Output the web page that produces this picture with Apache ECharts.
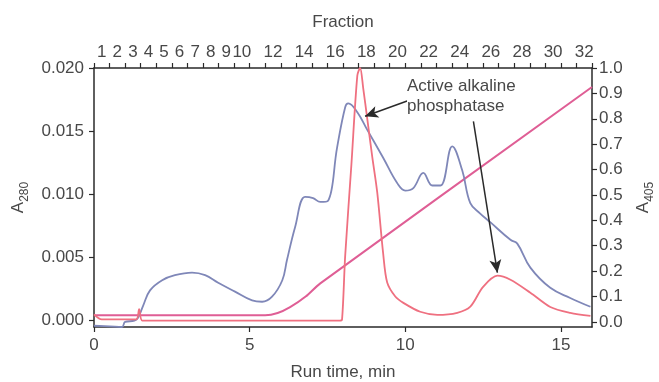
<!DOCTYPE html>
<html>
<head>
<meta charset="utf-8">
<script src="https://cdn.jsdelivr.net/npm/echarts@6/dist/echarts.min.js"></script>
<style>
  html, body { margin: 0; padding: 0; background: #fff; }
  #chart { width: 659px; height: 382px; }
</style>
</head>
<body>
<div id="chart"></div>
<script>
// fractions on the top axis
const fractions = ["1","2","3","4","5","6","7","8","9","10","11","12","13","14","15","16",
  "17","18","19","20","21","22","23","24","25","26","27","28","29","30","31","32"];

// A280 trace (left axis)
const a280Time = [0, 0.5, 0.9, 1.0, 1.3, 1.41, 1.58, 1.8, 2.19, 2.6, 3.15, 3.57, 3.99, 4.53, 5.08, 5.4,
  5.72, 6.05, 6.2, 6.46, 6.78, 7.04, 7.27, 7.52, 7.81, 8.07, 8.17, 8.46, 8.78, 9.29, 9.74, 10.0,
  10.26, 10.58, 10.87, 11.13, 11.51, 11.83, 12.09, 12.4, 12.73, 13.38, 13.6, 14.02, 14.66, 15.3, 15.95];
const a280Values = [-0.0004, -0.00045, -0.0005, -0.0001, 0.0, 0.0002, 0.0012, 0.0024, 0.0032, 0.0036, 0.0038, 0.0036, 0.0030, 0.0023, 0.0016, 0.0015,
  0.0019, 0.0032, 0.0048, 0.0074, 0.0098, 0.0097, 0.0094, 0.0095, 0.0137, 0.0169, 0.0172, 0.0165, 0.0151, 0.0129, 0.0109, 0.0103,
  0.0105, 0.0117, 0.0107, 0.0107, 0.0138, 0.0119, 0.0093, 0.0085, 0.0078, 0.0064, 0.0061, 0.0042, 0.0026, 0.0018, 0.0011];

// A405 trace (right axis)
const a405Time = [0, 0.25, 1.35, 1.45, 1.55, 2.0, 7.9, 7.97, 8.07, 8.27, 8.46, 8.55, 8.65, 8.78, 8.94, 9.1,
  9.29, 9.42, 9.68, 9.94, 10.48, 11.03, 11.67, 12.09, 12.5, 12.96, 13.38, 14.02, 14.66, 15.3, 15.95];
const a405Values = [0.03, 0.01, 0.01, 0.05, 0.005, 0.005, 0.005, 0.01, 0.26, 0.62, 0.97, 1.0, 0.92, 0.80, 0.65, 0.51,
  0.27, 0.155, 0.10, 0.075, 0.04, 0.028, 0.036, 0.06, 0.138, 0.182, 0.166, 0.115, 0.059, 0.036, 0.024];

// salt gradient (right axis scale)
const gradTime = [0, 5.5, 5.9, 6.3, 6.8, 7.27, 16];
const gradValues = [0.026, 0.026, 0.035, 0.058, 0.1, 0.152, 0.925];

const leftTicks = [0, 0.005, 0.010, 0.015, 0.020];
const rightTicks = [0, 0.1, 0.2, 0.3, 0.4, 0.5, 0.6, 0.7, 0.8, 0.9, 1.0];

const pairs = (xs, ys) => xs.map((x, i) => [x, ys[i]]);

const txt = "#484848";
const axisLine = { show: true, onZero: false, lineStyle: { color: "#2a2a2a", width: 1.5 } };
const tick = { show: true, length: 5, lineStyle: { color: "#2a2a2a", width: 1.2 } };
const font = "Liberation Sans, Arial, sans-serif";

const chart = echarts.init(document.getElementById("chart"));

chart.setOption({
  animation: false,
  textStyle: { fontFamily: font },
  grid: { left: 94, right: 67, top: 68, bottom: 55, containLabel: false, outerBoundsMode: "none" },
  xAxis: [
    {
      type: "value",
      position: "bottom",
      min: 0,
      max: 16,
      interval: 5,
      axisLine: axisLine,
      axisTick: tick,
      splitLine: { show: false },
      axisLabel: { color: txt, fontSize: 17, margin: 10, showMaxLabel: false },
      name: "Run time, min",
      nameLocation: "middle",
      nameGap: 37,
      nameTextStyle: { color: txt, fontSize: 17 },
    },
    {
      type: "category",
      position: "top",
      data: fractions,
      boundaryGap: true,
      axisLine: axisLine,
      axisTick: Object.assign({}, tick, { interval: 0 }),
      axisLabel: {
        color: txt,
        fontSize: 17,
        margin: 7,
        interval: (i) => i < 10 || i % 2 === 1,
      },
      name: "Fraction",
      nameLocation: "middle",
      nameGap: 37,
      nameTextStyle: { color: txt, fontSize: 17 },
    },
  ],
  yAxis: [
    {
      type: "value",
      position: "left",
      min: -0.0005,
      max: 0.02,
      axisLine: axisLine,
      axisTick: Object.assign({}, tick, { customValues: leftTicks }),
      splitLine: { show: false },
      axisLabel: {
        color: txt,
        fontSize: 17,
        margin: 10,
        customValues: leftTicks,
        formatter: (v) => v.toFixed(3),
      },
      name: "A{s|280}",
      nameLocation: "middle",
      nameRotate: 90,
      nameGap: 62,
      nameTextStyle: {
        color: txt,
        fontSize: 17,
        rich: {
          s: { fontSize: 12, color: txt, verticalAlign: "bottom", lineHeight: 12, padding: [0, 0, -4, 0] },
        },
      },
    },
    {
      type: "value",
      position: "right",
      min: -0.02,
      max: 1.0,
      axisLine: axisLine,
      axisTick: Object.assign({}, tick, { customValues: rightTicks }),
      splitLine: { show: false },
      axisLabel: {
        color: txt,
        fontSize: 17,
        margin: 7,
        customValues: rightTicks,
        formatter: (v) => v.toFixed(1),
      },
      name: "A{s|405}",
      nameLocation: "middle",
      nameRotate: 90,
      nameGap: 43,
      nameTextStyle: {
        color: txt,
        fontSize: 17,
        rich: {
          s: { fontSize: 12, color: txt, verticalAlign: "bottom", lineHeight: 12, padding: [0, 0, -4, 0] },
        },
      },
    },
  ],
  series: [
    {
      name: "Gradient",
      type: "line",
      xAxisIndex: 0,
      yAxisIndex: 1,
      data: pairs(gradTime, gradValues),
      smooth: 0.3,
      symbol: "none",
      lineStyle: { color: "#df5e95", width: 2 },
    },
    {
      name: "A280",
      type: "line",
      xAxisIndex: 0,
      yAxisIndex: 0,
      data: pairs(a280Time, a280Values),
      smooth: 0.4,
      symbol: "none",
      lineStyle: { color: "#7f87b8", width: 1.8 },
    },
    {
      name: "A405",
      type: "line",
      xAxisIndex: 0,
      yAxisIndex: 1,
      data: pairs(a405Time, a405Values),
      smooth: 0.3,
      symbol: "none",
      lineStyle: { color: "#ef7080", width: 1.8 },
      markLine: {
        silent: true,
        symbol: ["none", "arrow"],
        symbolSize: [9, 13],
        label: { show: false },
        lineStyle: { color: "#2a2a2a", width: 1.5, type: "solid" },
        data: [
          [{ coord: [10.06, 0.87] }, { coord: [8.71, 0.81] }],
          [{ coord: [12.19, 0.79] }, { coord: [12.96, 0.194] }],
        ],
      },
    },
  ],
  graphic: [
    {
      type: "text",
      left: 407,
      top: 76,
      z: 100,
      style: {
        text: "Active alkaline\nphosphatase",
        fill: txt,
        font: "17px " + font,
        lineHeight: 20,
        backgroundColor: "#fff",
      },
    },
  ],
});
</script>
</body>
</html>
